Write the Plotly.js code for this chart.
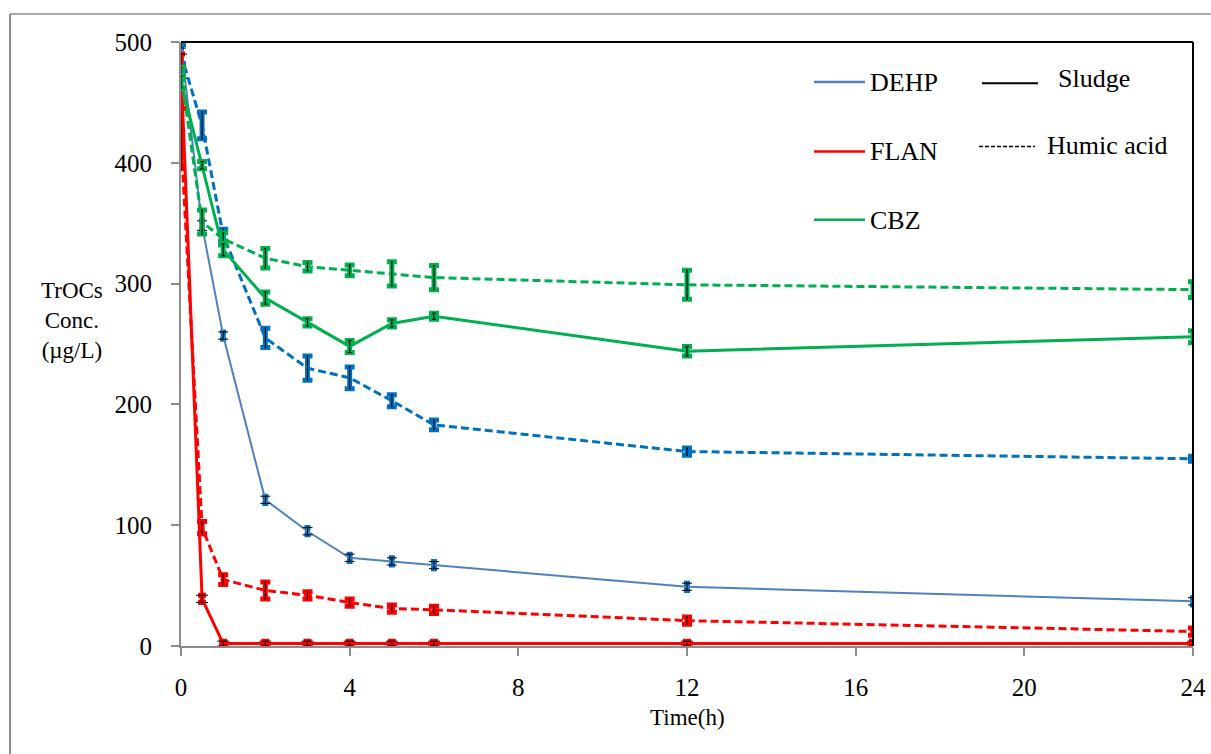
<!DOCTYPE html>
<html>
<head>
<meta charset="utf-8">
<script src="https://cdn.plot.ly/plotly-3.0.1.min.js"></script>
<style>
  html, body { margin: 0; padding: 0; background: #fff; }
  #chart { width: 1211px; height: 754px; }
</style>
</head>
<body>
<div id="chart"></div>
<script>
// ---- data ----
const time = [0, 0.5, 1, 2, 3, 4, 5, 6, 12, 24];

const dehpSludge    = [498, 348, 257, 121, 95, 73, 70, 67, 49, 37];
const dehpSludgeErr = [3, 4, 3, 3, 3, 3, 3, 3, 3, 3];
const dehpHumic     = [490, 431, 340, 255, 230, 222, 203, 183, 161, 155];
const dehpHumicErr  = [8, 11, 5, 8, 10, 9, 5, 4, 3, 2];

const flanSludge    = [480, 39, 2, 2, 2, 2, 2, 2, 2, 2];
const flanSludgeErr = [10, 3, 2, 2, 2, 2, 2, 2, 2, 2];
const flanHumic     = [420, 98, 55, 46, 42, 36, 31, 30, 21, 12];
const flanHumicErr  = [25, 5, 4, 7, 3, 3, 3, 3, 3, 3];

const cbzSludge     = [467, 398, 328, 288, 268, 248, 267, 273, 244, 256];
const cbzSludgeErr  = [5, 3, 5, 5, 3, 5, 3, 2.5, 4, 5];
const cbzHumic      = [474, 351, 337, 321, 314, 311, 308, 305, 299, 295];
const cbzHumicErr   = [5, 10, 5, 8, 3.5, 4.5, 10, 10, 12, 6.5];

const xTicks = [0, 4, 8, 12, 16, 20, 24];
const yTicks = [0, 100, 200, 300, 400, 500];

const legendCompounds = ['DEHP', 'FLAN', 'CBZ'];
const legendMedia = ['Sludge', 'Humic acid'];

// ---- styles ----
const FONT = '"Liberation Serif", "Times New Roman", Times, serif';
const C_DEHP_LINE = '#4f81bd';
const C_DEHP = '#0070c0';
const C_FLAN = '#ff0000';
const C_CBZ = '#00b050';
const DASH = '8px,4px';

function series(y, err, lineColor, errColor, lineWidth, dash, colCap, blackCap) {
  return [
    {
      x: time, y: y, type: 'scatter', mode: 'lines',
      line: {color: lineColor, width: lineWidth, dash: dash},
      error_y: {type: 'data', array: err, visible: true, color: errColor, thickness: 5, width: colCap},
      showlegend: false, hoverinfo: 'skip'
    },
    {
      x: time, y: y, type: 'scatter', mode: 'markers',
      marker: {size: 1, color: 'rgba(0,0,0,0)'},
      error_y: {type: 'data', array: err, visible: true, color: '#000', thickness: 1, width: blackCap},
      showlegend: false, hoverinfo: 'skip'
    }
  ];
}

const data = [].concat(
  series(dehpHumic, dehpHumicErr, C_DEHP, C_DEHP, 3, DASH, 5, 1),
  series(dehpSludge, dehpSludgeErr, C_DEHP_LINE, C_DEHP, 2, 'solid', 3, 5),
  series(flanHumic, flanHumicErr, C_FLAN, C_FLAN, 3, DASH, 5, 1),
  series(flanSludge, flanSludgeErr, C_FLAN, C_FLAN, 3, 'solid', 4, 6),
  series(cbzHumic, cbzHumicErr, C_CBZ, C_CBZ, 3, DASH, 5, 1),
  series(cbzSludge, cbzSludgeErr, C_CBZ, C_CBZ, 3, 'solid', 5, 2)
);

// pixel -> paper helpers for legend / frame decorations
const L = 181, R = 1193, T = 42, B = 646.5;
const px = v => (v - L) / (R - L);
const py = v => (B - v) / (B - T);

const shapes = [
  // outer figure frame (left + top)
  {type: 'line', xref: 'paper', yref: 'paper', x0: px(10), x1: px(10), y0: py(14), y1: py(760), line: {color: '#8c8c8c', width: 2}},
  {type: 'line', xref: 'paper', yref: 'paper', x0: px(10), x1: px(1215), y0: py(14), y1: py(14), line: {color: '#8c8c8c', width: 1.5}},
  // plot-area top and right black frame
  {type: 'line', xref: 'paper', yref: 'paper', x0: 0, x1: 1, y0: 1, y1: 1, line: {color: '#000', width: 2}},
  {type: 'line', xref: 'paper', yref: 'paper', x0: 1, x1: 1, y0: 0, y1: 1, line: {color: '#000', width: 2}},
  // legend samples
  {type: 'line', xref: 'paper', yref: 'paper', x0: px(814), x1: px(865), y0: py(82), y1: py(82), line: {color: C_DEHP_LINE, width: 2.5}},
  {type: 'line', xref: 'paper', yref: 'paper', x0: px(814), x1: px(865), y0: py(151.5), y1: py(151.5), line: {color: C_FLAN, width: 2.5}},
  {type: 'line', xref: 'paper', yref: 'paper', x0: px(814), x1: px(865), y0: py(220), y1: py(220), line: {color: C_CBZ, width: 2.5}},
  {type: 'line', xref: 'paper', yref: 'paper', x0: px(982), x1: px(1038), y0: py(83.3), y1: py(83.3), line: {color: '#000', width: 2}},
  {type: 'line', xref: 'paper', yref: 'paper', x0: px(979), x1: px(1035), y0: py(146.7), y1: py(146.7), line: {color: '#000', width: 1.5, dash: '4px,2px'}}
];

const legFont = {family: FONT, size: 26, color: '#000'};
const annotations = [
  {xref: 'paper', yref: 'paper', x: px(868), y: py(83), xanchor: 'left', yanchor: 'middle', text: legendCompounds[0], showarrow: false, font: legFont},
  {xref: 'paper', yref: 'paper', x: px(868), y: py(152), xanchor: 'left', yanchor: 'middle', text: legendCompounds[1], showarrow: false, font: legFont},
  {xref: 'paper', yref: 'paper', x: px(868), y: py(221), xanchor: 'left', yanchor: 'middle', text: legendCompounds[2], showarrow: false, font: legFont},
  {xref: 'paper', yref: 'paper', x: px(1056), y: py(79), xanchor: 'left', yanchor: 'middle', text: legendMedia[0], showarrow: false, font: legFont},
  {xref: 'paper', yref: 'paper', x: px(1045), y: py(146), xanchor: 'left', yanchor: 'middle', text: legendMedia[1], showarrow: false, font: legFont},
  // y-axis title (horizontal, three lines)
  {xref: 'paper', yref: 'paper', x: px(72), y: py(321), xanchor: 'center', yanchor: 'middle', align: 'center',
   text: 'TrOCs<br>Conc.<br>(µg/L)', showarrow: false, font: {family: FONT, size: 23, color: '#000'}},
  // x-axis title
  {xref: 'paper', yref: 'paper', x: 0.5, y: py(718), xanchor: 'center', yanchor: 'middle',
   text: 'Time(h)', showarrow: false, font: {family: FONT, size: 23, color: '#000'}}
];

const layout = {
  width: 1211, height: 754,
  margin: {l: L, r: 1211 - R, t: T, b: 754 - B, pad: 0},
  paper_bgcolor: '#fff', plot_bgcolor: '#fff',
  showlegend: false,
  font: {family: FONT, color: '#000'},
  xaxis: {
    range: [0, 24], tickvals: xTicks, ticktext: xTicks.map(String),
    showgrid: false, zeroline: false,
    showline: true, linecolor: '#8c8c8c', linewidth: 2,
    ticks: 'outside', ticklen: 8, tickwidth: 2, tickcolor: '#8c8c8c',
    ticklabelstandoff: 10,
    tickfont: {family: FONT, size: 25, color: '#000'}
  },
  yaxis: {
    range: [0, 500], tickvals: yTicks, ticktext: yTicks.map(String),
    showgrid: false, zeroline: false,
    showline: true, linecolor: '#8c8c8c', linewidth: 2,
    ticks: 'outside', ticklen: 8, tickwidth: 2, tickcolor: '#8c8c8c',
    ticklabelstandoff: 14,
    tickfont: {family: FONT, size: 25, color: '#000'}
  },
  shapes: shapes,
  annotations: annotations
};

Plotly.newPlot('chart', data, layout, {displayModeBar: false, staticPlot: true});
</script>
</body>
</html>
